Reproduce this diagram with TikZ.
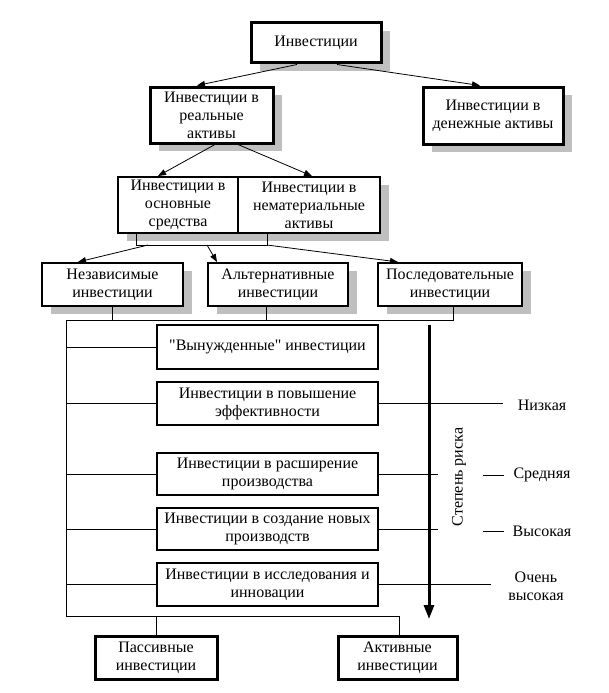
\documentclass[tikz,border=0pt]{standalone}
\usepackage{fontspec}
\setmainfont{Liberation Serif}
\newfontfamily\qfont[Ligatures=TeXOff]{Liberation Serif}
\usetikzlibrary{shadows,arrows.meta}
\begin{document}
\begin{tikzpicture}[x=1pt,y=-1pt,
  every node/.style={font=\fontsize{16}{18}\selectfont},
  box/.style={draw, fill=white, line width=2pt, inner sep=0pt, align=center},
  thickbox/.style={box, line width=3pt},
  shad/.style={drop shadow={shadow xshift=9pt, shadow yshift=-8pt, fill=black!25, opacity=1}},
  conn/.style={line width=0.8pt},
  arr/.style={conn, -{Triangle[length=8pt,width=6pt]}},
  bigarr/.style={line width=3pt, -{Triangle[length=14pt,width=10pt]}},
  lbl/.style={inner sep=0pt, align=center}
]
\useasboundingbox (0,0) rectangle (609,693);

% top levels
\node[thickbox, shad, minimum width=130pt, minimum height=40pt] (top) at (316,43) {Инвестиции};
\node[thickbox, shad, minimum width=123pt, minimum height=56pt] (real) at (211.5,115) {Инвестиции в\\реальные\\активы};
\node[thickbox, shad, minimum width=140pt, minimum height=57pt] (money) at (493,115.5) {Инвестиции в\\денежные активы};

\node[box, shad, minimum width=120pt, minimum height=56pt] (osn) at (178,205) {Инвестиции в\\основные\\средства};
\node[box, shad, minimum width=142pt, minimum height=56pt] (nemat) at (309,205) {Инвестиции в\\нематериальные\\активы};
\node[box, minimum width=120pt, minimum height=56pt] at (178,205) {Инвестиции в\\основные\\средства};

\node[box, shad, minimum width=141pt, minimum height=43pt] (nez) at (112.5,284.5) {Независимые\\инвестиции};
\node[box, shad, minimum width=140pt, minimum height=43pt] (alt) at (278,284.5) {Альтернативные\\инвестиции};
\node[box, shad, minimum width=144pt, minimum height=43pt] (posl) at (450,284.5) {Последовательные\\инвестиции};

% middle boxes
\node[box, minimum width=221pt, minimum height=44pt] (vyn) at (267.5,347) {{\qfont"}Вынужденные{\qfont"} инвестиции};
\node[box, minimum width=221pt, minimum height=43pt] (pov) at (267.5,403.5) {Инвестиции в повышение\\эффективности};
\node[box, minimum width=221pt, minimum height=42pt] (ras) at (267.5,474) {Инвестиции в расширение\\производства};
\node[box, minimum width=221pt, minimum height=42pt] (soz) at (267.5,529) {Инвестиции в создание новых\\производств};
\node[box, minimum width=221pt, minimum height=43pt] (iss) at (267.5,584.5) {Инвестиции в исследования и\\инновации};

% bottom boxes
\node[thickbox, minimum width=122pt, minimum height=43pt] (pas) at (156,657.5) {Пассивные\\инвестиции};
\node[thickbox, minimum width=119pt, minimum height=43pt] (akt) at (397.5,657.5) {Активные\\инвестиции};

% labels
\node[lbl] (low) at (542,405) {Низкая};
\node[lbl] (mid) at (542,475) {Средняя};
\node[lbl] (high) at (542,531) {Высокая};
\node[lbl] (vhigh) at (536,586) {Очень\\высокая};
\node[lbl, rotate=90] (riskl) at (459,477) {Степень риска};

% arrows top
\draw[arr] ([xshift=-19pt]top.south) -- ([xshift=-14.5pt]real.north);
\draw[arr] ([xshift=21pt]top.south) -- ([xshift=-13pt]money.north);
\draw[arr] ([xshift=3.5pt]real.south) -- ([xshift=-20pt]osn.north);
\draw[arr] ([xshift=26.5pt]real.south) -- ([xshift=3pt]nemat.north);

% bracket under osn/nemat
\coordinate (bl) at (136,245);
\coordinate (br) at (267,245);
\coordinate (b1) at (148,245);
\coordinate (b2) at (207,245);
\draw[conn] (osn.south -| bl) -- (bl) -- (br) -- (nemat.south -| br);
\draw[arr] (b1) -- ([xshift=-34.5pt]nez.north);
\draw[arr] (b2) -- ([xshift=-61pt]alt.north);
\draw[arr] (br) -- ([xshift=-52pt]posl.north);

% collecting lines
\coordinate (h1) at (66,320);
\coordinate (lb) at (66,616);
\draw[conn] ([xshift=3pt]posl.south) |- (h1) -- (lb) -| ([xshift=1.5pt]akt.north);
\draw[conn] (nez.south) -- (nez.south |- h1);
\draw[conn] ([xshift=-12pt]alt.south) -- ([xshift=-12pt]alt.south |- h1);
\draw[conn] (pas.north) -- (pas.north |- lb);
\foreach \n in {vyn,pov,ras,soz,iss} \draw[conn] (\n.west) -- (\n.west -| h1);

% risk arrow
\coordinate (at) at (429,325);
\coordinate (ab) at (429,619);
\draw[bigarr] (at) -- (ab);

% right lines
\draw[conn] (pov.east) -- ++(124,0);
\draw[conn] (ras.east) -- ++(59,0);
\draw[conn] (soz.east) -- ++(59,0);
\draw[conn] (iss.east) -- ++(112,0);
\draw[conn] ([xshift=-9pt]mid.west) -- ++(-21,0);
\draw[conn] ([xshift=-9pt]high.west) -- ++(-21,0);
\end{tikzpicture}
\end{document}
